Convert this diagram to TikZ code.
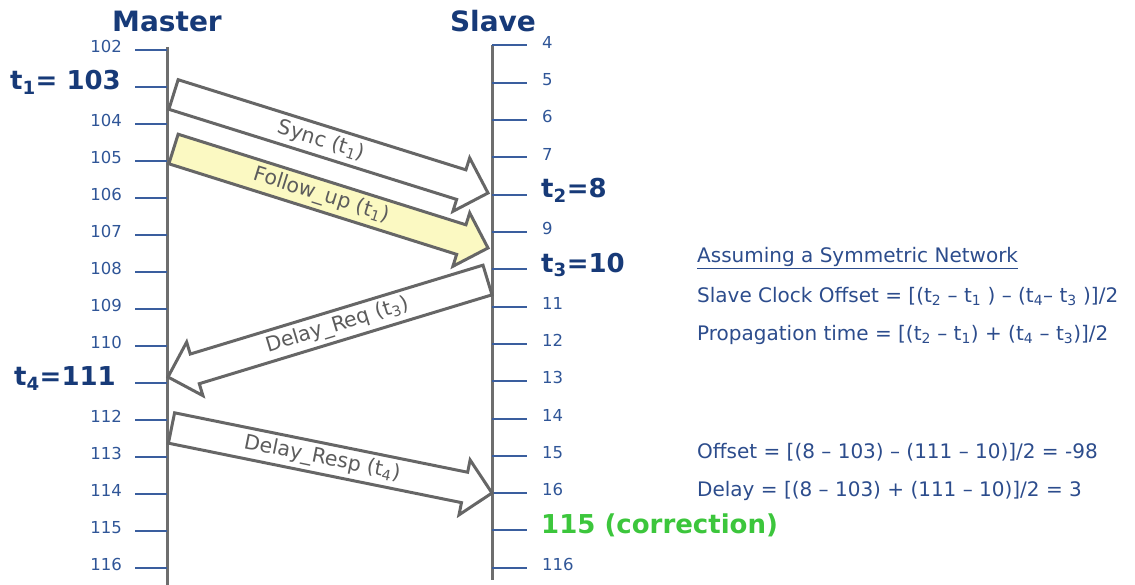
\documentclass[tikz,border=0pt]{standalone}
\usepackage{fontspec}
\setmainfont{DejaVu Sans}
\usetikzlibrary{calc}
\definecolor{axisgray}{HTML}{6E6E6E}
\definecolor{tickblue}{HTML}{3A5E9E}
\definecolor{numblue}{HTML}{2F5597}
\definecolor{navy}{HTML}{173A78}
\definecolor{txtblue}{HTML}{2C4C8C}
\definecolor{arrgray}{HTML}{666666}
\definecolor{labgray}{HTML}{5C5C5C}
\definecolor{paleyellow}{HTML}{FBF9C2}
\definecolor{corrgreen}{HTML}{3CC63C}
\newcommand\blockarrow[3]{%
  \coordinate (#1hb) at ($(#1tip)!28pt!(#1tail)$);
  \draw[#2] ($(#1tail)!15.5pt!90:(#1tip)$) -- ($(#1hb)!15.5pt!90:(#1tip)$)
    -- ($(#1hb)!28pt!90:(#1tip)$) -- (#1tip) -- ($(#1hb)!28pt!-90:(#1tip)$)
    -- ($(#1hb)!15.5pt!-90:(#1tip)$) -- ($(#1tail)!15.5pt!-90:(#1tip)$) -- cycle;
  \path (#1tail) -- (#1tip) node[pos=0.47, sloped, arrowtext] (#1lab) {#3};
}
\begin{document}
\begin{tikzpicture}[x=1pt,y=-1pt,
  axis/.style={draw=axisgray, line width=3pt},
  tick/.style={draw=tickblue, line width=2pt},
  num/.style={text=numblue, font=\fontsize{16.5}{19}\selectfont, inner sep=0pt},
  big/.style={text=navy, font=\fontsize{26}{30}\selectfont\bfseries, inner sep=0pt},
  head/.style={text=navy, font=\fontsize{28}{32}\selectfont\bfseries, inner sep=0pt, anchor=base},
  info/.style={text=txtblue, font=\fontsize{20}{24}\selectfont, inner sep=0pt, anchor=base west},
  msg/.style={draw=arrgray, line width=3pt, line join=miter, fill=white},
  arrowtext/.style={text=labgray, font=\fontsize{20.5}{23}\selectfont, inner sep=0pt},
]
\useasboundingbox (0,0) rectangle (1135,585);

% titles
\node[head] (master) at (167,32) {Master};
\node[head] (slave) at (493,32) {Slave};

% master axis
\foreach \k in {0,...,14} \coordinate (m\k) at (167,{50+37*\k});
\coordinate (mbot) at (167,585);
\draw[axis] (167,47) -- (mbot);
\foreach \k in {0,...,14} \draw[tick] (m\k) -- ++(-32,0);
\foreach \k/\lab in {0/102,2/104,3/105,4/106,5/107,6/108,7/109,8/110,10/112,11/113,12/114,13/115,14/116}
  \node[num, anchor=mid east] (ml\k) at ($(m\k)+(-45,0)$) {\lab};
\node[big, anchor=mid east] (t1) at ($(m1)+(-46,0)$) {t\textsubscript{1}= 103};
\node[big, anchor=mid east] (t4) at ($(m9)+(-51,0)$) {t\textsubscript{4}=111};

% slave axis
\foreach \k in {0,...,14} \coordinate (s\k) at (492,{45.5+37.3*\k});
\coordinate (sbot) at (492,580);
\draw[axis] (s0) -- (sbot);
\foreach \k in {0,...,14} \draw[tick] (s\k) -- ++(35,0);
\foreach \k/\lab in {0/4,1/5,2/6,3/7,5/9,7/11,8/12,9/13,10/14,11/15,12/16,14/116}
  \node[num, anchor=mid west] (sl\k) at ($(s\k)+(50,0)$) {\lab};
\node[big, anchor=mid west] (t2) at ($(s4)+(49,0)$) {t\textsubscript{2}=8};
\node[big, anchor=mid west] (t3) at ($(s6)+(49,0)$) {t\textsubscript{3}=10};
\node[big, anchor=mid west, text=corrgreen] (corr) at ($(s13)+(49,0)$) {115 (correction)};

% messages
\coordinate (synctail) at (173.5,94.5);   \coordinate (synctip) at (488,193);
\coordinate (followtail) at (173.5,149);  \coordinate (followtip) at (488,248);
\coordinate (reqtail) at (487.5,280);     \coordinate (reqtip) at (168,377);
\coordinate (resptail) at (171.5,428);    \coordinate (resptip) at (492,493);
\blockarrow{sync}{msg}{Sync (t\textsubscript{1})}
\blockarrow{follow}{msg, fill=paleyellow}{Follow\_up (t\textsubscript{1})}
\blockarrow{req}{msg}{Delay\_Req (t\textsubscript{3})}
\blockarrow{resp}{msg}{Delay\_Resp (t\textsubscript{4})}

% formulas
\node[info] (assume) at (697,263) {\underline{Assuming a Symmetric Network}};
\node[info] (offf) at (697,302) {Slave Clock Offset = [(t\textsubscript{2} – t\textsubscript{1} ) – (t\textsubscript{4}– t\textsubscript{3} )]/2};
\node[info] (propf) at (697,340) {Propagation time = [(t\textsubscript{2} – t\textsubscript{1}) + (t\textsubscript{4} – t\textsubscript{3})]/2};
\node[info] (offv) at (697,458) {Offset = [(8 – 103) – (111 – 10)]/2 = -98};
\node[info] (delv) at (697,496) {Delay = [(8 – 103) + (111 – 10)]/2 = 3};
\end{tikzpicture}
\end{document}
